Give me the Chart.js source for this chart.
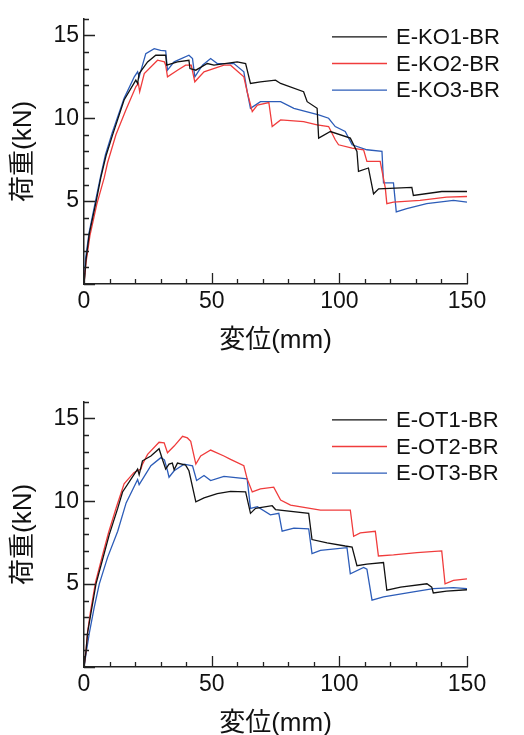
<!DOCTYPE html>
<html>
<head>
<meta charset="utf-8">
<script src="https://cdn.jsdelivr.net/npm/chart.js@4"></script>
<style>
  html, body { margin: 0; padding: 0; background: #fff; overflow: hidden; }
  body { width: 524px; height: 735px; position: relative; }
  canvas { position: absolute; left: 0; }
</style>
</head>
<body>
<canvas id="chartKO" width="524" height="367" style="top:0px"></canvas>
<canvas id="chartOT" width="524" height="367" style="top:383px"></canvas>
<script>
// data: displacement (mm) / load (kN)
const ko1X = [0, 0.8, 2.1, 4.7, 6.6, 8.6, 11.2, 15.7, 20.3, 21.0, 21.6, 24.9, 28.1, 32.0, 32.4, 36.6, 41.1, 41.5, 43.8, 48.3, 50.9, 60, 63.3, 65.2, 69.1, 75, 77, 86, 87.4, 91.3, 91.9, 96.5, 104.3, 106.9, 107.5, 111.4, 113.4, 115.4, 128.4, 129, 140.1, 150];
const ko1Y = [0, 1.47, 3.06, 4.94, 6.43, 7.72, 9.0, 11.1, 12.3, 12.1, 12.7, 13.4, 13.8, 13.8, 13.2, 13.4, 13.5, 13.0, 12.9, 13.3, 13.2, 13.4, 13.3, 12.1, 12.2, 12.3, 12.1, 11.6, 11.0, 10.6, 8.8, 9.2, 8.8, 8.0, 6.8, 7.0, 5.44, 5.74, 5.83, 5.34, 5.58, 5.58];

const ko2X = [0, 0.8, 2.3, 5.0, 7.9, 9.2, 12.5, 16.4, 20.3, 21.3, 21.8, 23.6, 28.8, 31.5, 32.0, 32.7, 36.6, 39.8, 42.0, 43.4, 47, 54.8, 57.4, 62.6, 63.9, 65.9, 67.9, 72.4, 73.7, 77, 86, 91.3, 95.8, 98.4, 99.7, 105, 109.5, 110.8, 116, 118, 118.6, 121.2, 131.6, 142, 150];
const ko2Y = [0, 1.3, 2.9, 4.8, 6.4, 7.3, 9.0, 10.5, 11.9, 12.1, 11.6, 12.7, 13.5, 13.4, 13.2, 12.5, 12.9, 13.2, 13.2, 12.2, 12.8, 13.2, 13.2, 12.5, 11.6, 10.4, 10.8, 10.95, 9.5, 9.9, 9.8, 9.6, 9.5, 8.7, 8.4, 8.2, 8.1, 7.4, 7.4, 5.8, 4.85, 4.94, 5.04, 5.24, 5.28];

const ko3X = [0, 0.6, 2.0, 4.5, 6.5, 8.4, 11.0, 15.7, 19.7, 21.0, 21.6, 24.2, 27.5, 30.0, 32.0, 32.7, 35.3, 41.1, 42.5, 43.4, 46.4, 49.6, 52.2, 58.7, 62.6, 63.9, 65.2, 69.1, 77, 82.2, 91.9, 95.8, 98.4, 102.3, 105, 110.8, 116.7, 117.3, 121.2, 122.3, 126.4, 134.2, 144.7, 150];
const ko3Y = [0, 1.5, 3.1, 5.0, 6.5, 7.8, 9.1, 11.2, 12.5, 12.8, 12.5, 13.9, 14.2, 14.1, 14.07, 12.9, 13.4, 13.8, 13.6, 12.5, 13.2, 13.6, 13.3, 13.3, 12.8, 11.6, 10.6, 11.0, 11.0, 10.6, 10.2, 10.0, 9.5, 9.2, 8.4, 8.1, 8.0, 6.1, 6.1, 4.35, 4.55, 4.85, 5.04, 4.94];

const ot1X = [0, 0.8, 1.4, 2.7, 4.7, 7.3, 9.9, 13.2, 15.1, 21.0, 21.6, 22.9, 26.2, 29.4, 30.7, 32.0, 33.3, 34.6, 35.3, 36.6, 39.8, 41.1, 43.8, 47, 52.2, 57.4, 63.3, 65.2, 67.2, 73.7, 75, 88, 89.3, 95.2, 102.3, 105, 106.9, 110.8, 117.3, 118.6, 124, 134.3, 136.2, 136.8, 142, 150];
const ot1Y = [0, 0.97, 2.06, 3.24, 5.02, 6.5, 7.99, 9.57, 10.56, 11.94, 11.6, 12.44, 12.73, 13.17, 12.53, 11.94, 12.24, 12.3, 11.9, 12.3, 12.18, 11.84, 9.96, 10.2, 10.46, 10.6, 10.56, 9.27, 9.57, 9.73, 9.5, 9.27, 7.69, 7.49, 7.3, 7.24, 6.11, 6.21, 6.3, 4.63, 4.82, 5.02, 4.82, 4.47, 4.58, 4.66];

const ot2X = [0, 0.8, 1.4, 2.5, 4.5, 7.0, 9.6, 12.8, 15.7, 19.6, 22.3, 22.8, 24.9, 29.4, 31.4, 32.7, 35.3, 38.6, 40.5, 41.8, 43.8, 45.7, 49.6, 54.8, 57.4, 62.6, 63.9, 65.9, 69.1, 74.3, 77, 80.9, 92.6, 104.3, 105.6, 108.2, 114.1, 115.3, 121.2, 130.4, 140.1, 141.4, 144.7, 150];
const ot2Y = [0, 1.0, 2.1, 3.3, 5.1, 6.6, 8.1, 9.7, 11.05, 11.74, 11.94, 12.2, 12.83, 13.56, 13.52, 12.93, 13.33, 13.92, 13.82, 13.62, 12.24, 12.73, 13.09, 12.73, 12.53, 12.14, 11.35, 10.56, 10.75, 10.85, 10.07, 9.77, 9.47, 9.47, 7.89, 8.09, 8.19, 6.7, 6.76, 6.9, 7.0, 5.02, 5.22, 5.32];

const ot3X = [0, 1.0, 2.1, 4.0, 6.0, 9.2, 13.2, 16.5, 21.0, 21.6, 26.2, 30.1, 31.5, 32.7, 33.3, 35.3, 39.2, 42.5, 44.1, 47, 49.6, 54.8, 63.9, 65.2, 67.9, 73, 76.3, 77.6, 82.2, 88, 89.3, 92.6, 103, 104.3, 109.5, 110.8, 112.8, 117.3, 129, 136.8, 144.7, 150];
const ot3Y = [0, 1.0, 2.06, 3.6, 5.02, 6.6, 8.19, 9.9, 11.31, 11.0, 12.14, 12.63, 12.5, 11.84, 11.45, 11.84, 12.24, 12.14, 11.25, 11.55, 11.25, 11.5, 11.35, 9.57, 9.67, 9.18, 9.27, 8.19, 8.38, 8.34, 6.84, 7.04, 7.2, 5.62, 6.01, 5.9, 4.03, 4.23, 4.53, 4.73, 4.79, 4.73];

const koLabels = ['E-KO1-BR', 'E-KO2-BR', 'E-KO3-BR'];
const otLabels = ['E-OT1-BR', 'E-OT2-BR', 'E-OT3-BR'];
const lineColors = ['#111111', '#f03c3c', '#2c5cb8'];
const xTitle = '変位(mm)';
const yTitle = '荷重(kN)';

const latin = "'Liberation Sans', Arial, 'Noto Sans CJK JP', sans-serif";

function toPoints(xs, ys) {
  return xs.map((x, i) => ({ x: x, y: ys[i] }));
}

// inward tick marks: long at labelled values, short in between
const innerTicks = {
  id: 'innerTicks',
  afterDraw(chart) {
    const ctx = chart.ctx;
    const area = chart.chartArea;
    const xs = chart.scales.x, ys = chart.scales.y;
    ctx.save();
    ctx.strokeStyle = '#222';
    ctx.lineWidth = 1.3;
    ctx.beginPath();
    for (let v = 0; v <= 150; v += 10) {
      const px = Math.round(xs.getPixelForValue(v)) + 0.5;
      const len = v % 50 === 0 ? 11 : 5;
      ctx.moveTo(px, area.bottom);
      ctx.lineTo(px, area.bottom - len);
    }
    for (let v = 0; v <= 16; v += 1) {
      const py = Math.round(ys.getPixelForValue(v)) + 0.5;
      const len = v % 5 === 0 ? 11 : 5;
      ctx.moveTo(area.left, py);
      ctx.lineTo(area.left + len, py);
    }
    ctx.stroke();
    ctx.restore();
  }
};

// legend drawn inside the plot, top right, as short lines + labels
const lineLegend = {
  id: 'lineLegend',
  afterDraw(chart) {
    const ctx = chart.ctx;
    const area = chart.chartArea;
    ctx.save();
    ctx.font = '22px ' + latin;
    ctx.textBaseline = 'middle';
    ctx.textAlign = 'left';
    chart.data.datasets.forEach((ds, i) => {
      const y = area.top + 18 + i * 26.7;
      ctx.strokeStyle = ds.borderColor;
      ctx.lineWidth = 1.3;
      ctx.beginPath();
      ctx.moveTo(area.right - 135, y);
      ctx.lineTo(area.right - 80, y);
      ctx.stroke();
      ctx.fillStyle = '#111';
      ctx.fillText(ds.label, area.right - 71, y + 1);
    });
    ctx.restore();
  }
};

function makeChart(id, labels, series) {
  new Chart(document.getElementById(id), {
    type: 'line',
    data: {
      datasets: series.map((s, i) => ({
        label: labels[i],
        data: toPoints(s[0], s[1]),
        borderColor: lineColors[i],
        borderWidth: 1.3,
        pointRadius: 0,
        tension: 0,
        fill: false
      }))
    },
    options: {
      responsive: false,
      animation: false,
      devicePixelRatio: 1,
      layout: { padding: { top: 15, right: 57, bottom: 0, left: 0 } },
      plugins: { legend: { display: false }, tooltip: { enabled: false } },
      scales: {
        x: {
          type: 'linear',
          min: 0,
          max: 150,
          grid: { display: false, drawTicks: false },
          border: { display: true, color: '#222', width: 1.5 },
          ticks: { stepSize: 50, padding: 4, color: '#111', font: { family: latin, size: 23 } },
          title: { display: true, text: xTitle, color: '#111', font: { family: latin, size: 26, lineHeight: 1.2 }, padding: { top: 0, bottom: 11 } },
          afterFit: (axis) => { axis.height = 83; }
        },
        y: {
          min: 0,
          max: 16,
          grid: { display: false, drawTicks: false },
          border: { display: true, color: '#222', width: 1.5 },
          ticks: {
            stepSize: 1,
            autoSkip: false,
            padding: 5,
            color: '#111',
            font: { family: latin, size: 23 },
            callback: (v) => (v > 0 && v % 5 === 0 ? v : '')
          },
          title: { display: true, text: yTitle, color: '#111', font: { family: latin, size: 26, lineHeight: 1.2 }, padding: { top: 8, bottom: 0 } },
          afterFit: (axis) => { axis.width = 84; }
        }
      }
    },
    plugins: [innerTicks, lineLegend]
  });
}

makeChart('chartKO', koLabels, [[ko1X, ko1Y], [ko2X, ko2Y], [ko3X, ko3Y]]);
makeChart('chartOT', otLabels, [[ot1X, ot1Y], [ot2X, ot2Y], [ot3X, ot3Y]]);
</script>
</body>
</html>
